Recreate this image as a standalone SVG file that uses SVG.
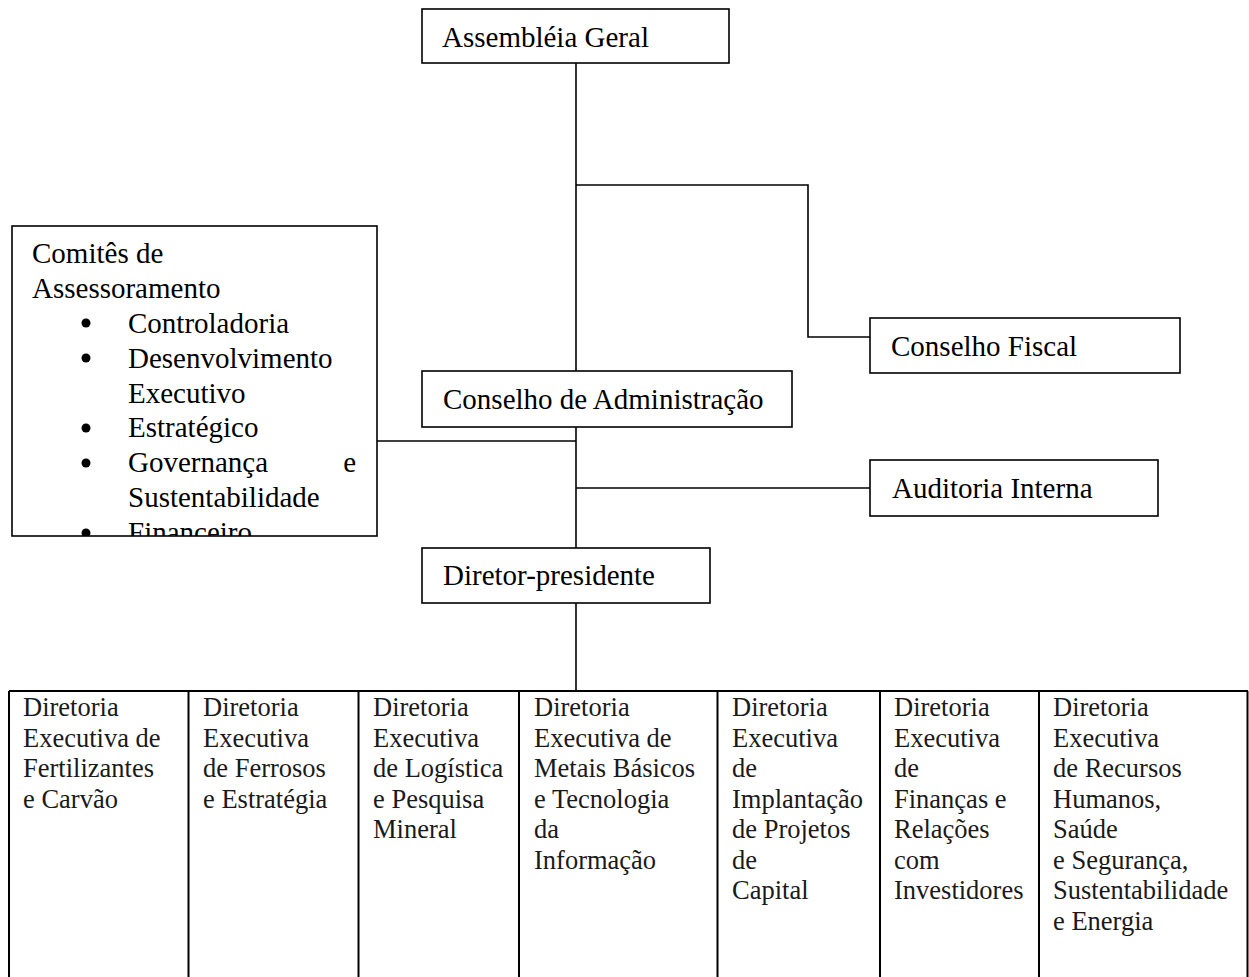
<svg xmlns="http://www.w3.org/2000/svg" width="1249" height="977" viewBox="0 0 1249 977" font-family="'Liberation Serif', 'Times New Roman', 'DejaVu Serif', serif">
  <style>
    .box { fill: #ffffff; stroke: #000000; stroke-width: 1.6; }
    .conn { fill: none; stroke: #000000; stroke-width: 1.6; }
    .grid { fill: none; stroke: #000000; stroke-width: 2; }
    text { font-family: 'Liberation Serif', 'Times New Roman', 'DejaVu Serif', serif; }
    .lbl { font-size: 29px; fill: #000000; }
    .cell { font-size: 26.5px; fill: #1a1a1a; }
  </style>
  <rect width="1249" height="977" fill="#ffffff"/>

  <!-- connectors -->
  <g id="connectors">
    <path class="conn" d="M576 63 V371"/>
    <path class="conn" d="M576 185 H808 V337 H870"/>
    <path class="conn" d="M576 427 V548"/>
    <path class="conn" d="M377 441 H576"/>
    <path class="conn" d="M576 488 H870"/>
    <path class="conn" d="M576 603 V690"/>
  </g>

  <g id="assembleia-geral">
    <rect class="box" x="422" y="9" width="307" height="54"/>
    <text class="lbl" x="442" y="47" font-family="'Liberation Serif', serif">Assembléia Geral</text>
  </g>

  <g id="conselho-fiscal">
    <rect class="box" x="870" y="318" width="310" height="55"/>
    <text class="lbl" x="891" y="356">Conselho Fiscal</text>
  </g>

  <g id="conselho-administracao">
    <rect class="box" x="422" y="371" width="370" height="56"/>
    <text class="lbl" x="443" y="409">Conselho de Administração</text>
  </g>

  <g id="auditoria-interna">
    <rect class="box" x="870" y="460" width="288" height="56"/>
    <text class="lbl" x="892" y="498">Auditoria Interna</text>
  </g>

  <g id="diretor-presidente">
    <rect class="box" x="422" y="548" width="288" height="55"/>
    <text class="lbl" x="443" y="585">Diretor-presidente</text>
  </g>

  <!-- advisory committees box; last item is cut by the bottom edge -->
  <g id="comites">
    <clipPath id="comites-clip">
      <rect x="12" y="226" width="365" height="310"/>
    </clipPath>
    <g clip-path="url(#comites-clip)">
      <text class="lbl" x="32" y="263">Comitês de</text>
      <text class="lbl" x="32" y="298">Assessoramento</text>
      <g fill="#000000">
        <circle cx="86" cy="323" r="4.5"/>
        <circle cx="86" cy="358" r="4.5"/>
        <circle cx="86" cy="428" r="4.5"/>
        <circle cx="86" cy="463" r="4.5"/>
        <circle cx="86" cy="533" r="4.5"/>
      </g>
      <text class="lbl" x="128" y="333">Controladoria</text>
      <text class="lbl" x="128" y="368">Desenvolvimento</text>
      <text class="lbl" x="128" y="403">Executivo</text>
      <text class="lbl" x="128" y="437">Estratégico</text>
      <text class="lbl" x="128" y="472">Governança</text>
      <text class="lbl" x="356" y="472" text-anchor="end">e</text>
      <text class="lbl" x="128" y="507">Sustentabilidade</text>
      <text class="lbl" x="128" y="542">Financeiro</text>
    </g>
    <rect x="12" y="226" width="365" height="310" fill="none" stroke="#000000" stroke-width="1.6"/>
  </g>

  <!-- executive boards table -->
  <g id="diretorias">
    <path class="grid" d="M9 691 H1248 M9 691 V977 M188.5 691 V977 M358.5 691 V977 M519 691 V977 M717.5 691 V977 M880 691 V977 M1039 691 V977 M1247.5 691 V977"/>
    <g id="dir-fertilizantes">
      <text class="cell" x="23" y="716">Diretoria</text>
      <text class="cell" x="23" y="746.5">Executiva de</text>
      <text class="cell" x="23" y="777">Fertilizantes</text>
      <text class="cell" x="23" y="807.5">e Carvão</text>
    </g>
    <g id="dir-ferrosos">
      <text class="cell" x="203" y="716">Diretoria</text>
      <text class="cell" x="203" y="746.5">Executiva</text>
      <text class="cell" x="203" y="777">de Ferrosos</text>
      <text class="cell" x="203" y="807.5">e Estratégia</text>
    </g>
    <g id="dir-logistica">
      <text class="cell" x="373" y="716">Diretoria</text>
      <text class="cell" x="373" y="746.5">Executiva</text>
      <text class="cell" x="373" y="777">de Logística</text>
      <text class="cell" x="373" y="807.5">e Pesquisa</text>
      <text class="cell" x="373" y="838">Mineral</text>
    </g>
    <g id="dir-metais">
      <text class="cell" x="534" y="716">Diretoria</text>
      <text class="cell" x="534" y="746.5">Executiva de</text>
      <text class="cell" x="534" y="777">Metais Básicos</text>
      <text class="cell" x="534" y="807.5">e Tecnologia</text>
      <text class="cell" x="534" y="838">da</text>
      <text class="cell" x="534" y="868.5">Informação</text>
    </g>
    <g id="dir-projetos">
      <text class="cell" x="732" y="716">Diretoria</text>
      <text class="cell" x="732" y="746.5">Executiva</text>
      <text class="cell" x="732" y="777">de</text>
      <text class="cell" x="732" y="807.5">Implantação</text>
      <text class="cell" x="732" y="838">de Projetos</text>
      <text class="cell" x="732" y="868.5">de</text>
      <text class="cell" x="732" y="899">Capital</text>
    </g>
    <g id="dir-financas">
      <text class="cell" x="894" y="716">Diretoria</text>
      <text class="cell" x="894" y="746.5">Executiva</text>
      <text class="cell" x="894" y="777">de</text>
      <text class="cell" x="894" y="807.5">Finanças e</text>
      <text class="cell" x="894" y="838">Relações</text>
      <text class="cell" x="894" y="868.5">com</text>
      <text class="cell" x="894" y="899">Investidores</text>
    </g>
    <g id="dir-rh">
      <text class="cell" x="1053" y="716">Diretoria</text>
      <text class="cell" x="1053" y="746.5">Executiva</text>
      <text class="cell" x="1053" y="777">de Recursos</text>
      <text class="cell" x="1053" y="807.5">Humanos,</text>
      <text class="cell" x="1053" y="838">Saúde</text>
      <text class="cell" x="1053" y="868.5">e Segurança,</text>
      <text class="cell" x="1053" y="899">Sustentabilidade</text>
      <text class="cell" x="1053" y="929.5">e Energia</text>
    </g>
  </g>
</svg>
